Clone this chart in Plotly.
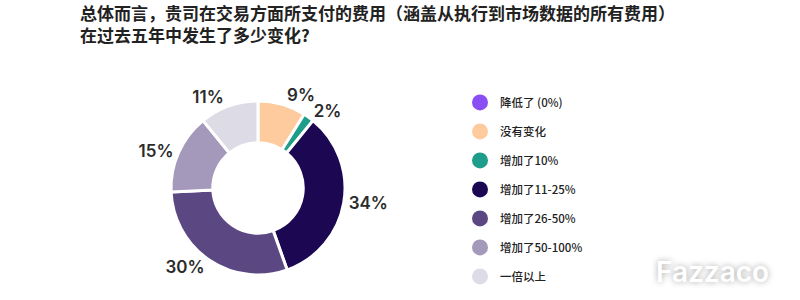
import plotly.graph_objects as go

categories = ["降低了 (0%)", "没有变化", "增加了10%", "增加了11-25%", "增加了26-50%", "增加了50-100%", "一倍以上"]
values = [0, 9, 2, 34, 30, 15, 11]
colors = ["#8A4EF5", "#FECB9F", "#1E9E8A", "#1C0852", "#5B4883", "#A498BB", "#DDDCE6"]
title_text = "总体而言，贵司在交易方面所支付的费用（涵盖从执行到市场数据的所有费用）<br>在过去五年中发生了多少变化?"

pie_labels = [c for c, v in zip(categories, values) if v > 0]
pie_values = [v for v in values if v > 0]
pie_colors = [col for col, v in zip(colors, values) if v > 0]
pie_text = [f"{v}%" for v in pie_values]

domain = dict(x=[0.21125, 0.43375], y=[0.0833, 0.6633])
label_font = dict(family="Inter", size=17, color="#2b2b2b", weight=600)

# two overlapping pies share the geometry; each carries every other label
pos_a = ["outside" if i % 2 == 0 else "none" for i in range(len(pie_values))]
pos_b = ["none" if i % 2 == 0 else "outside" for i in range(len(pie_values))]

fig = go.Figure()
fig.add_trace(go.Pie(
    labels=pie_labels, values=pie_values, text=pie_text, texttemplate="%{text}",
    textposition=pos_a, textfont=label_font,
    marker=dict(colors=pie_colors, line=dict(color="white", width=3)),
    hole=0.52, sort=False, direction="clockwise", rotation=0,
    showlegend=False, domain=domain,
))
fig.add_trace(go.Pie(
    labels=pie_labels, values=pie_values, text=pie_text, texttemplate="%{text}",
    textposition=pos_b, textfont=label_font,
    marker=dict(colors=["rgba(0,0,0,0)"] * len(pie_values), line=dict(color="rgba(0,0,0,0)", width=0)),
    hole=0.52, sort=False, direction="clockwise", rotation=0,
    showlegend=False, domain=domain, hoverinfo="skip",
))

for i, (c, col) in enumerate(zip(categories, colors)):
    fig.add_trace(go.Scatter(
        x=[None], y=[None], mode="markers", name=c,
        marker=dict(color=col, size=16, symbol="circle"),
        legendgroup=f"g{i}", showlegend=True,
    ))

fig.update_layout(
    width=800, height=300,
    margin=dict(l=0, r=0, t=0, b=0),
    paper_bgcolor="white", plot_bgcolor="white",
    xaxis=dict(visible=False), yaxis=dict(visible=False),
    title=dict(text=title_text, x=0.1, xref="container", xanchor="left",
               y=1 - 20 / 300, yref="container", yanchor="top",
               font=dict(family="Noto Sans CJK SC", size=17, color="#222", weight="bold")),
    legend=dict(x=0.575, y=0.707, xanchor="left", yanchor="top",
                font=dict(family="Noto Sans CJK SC", size=11.5, color="#222", weight=500),
                tracegroupgap=10, itemsizing="trace", bgcolor="rgba(0,0,0,0)"),
    annotations=[dict(text="Fazzaco", x=712 / 800, y=1 - 272 / 300, xref="paper", yref="paper",
                      xanchor="center", yanchor="middle", showarrow=False,
                      font=dict(family="Inter", size=28, color="white", weight=600,
                                shadow="0px 0px 6px rgba(0,0,0,0.35)"))],
)

fig.write_html("out.html")
